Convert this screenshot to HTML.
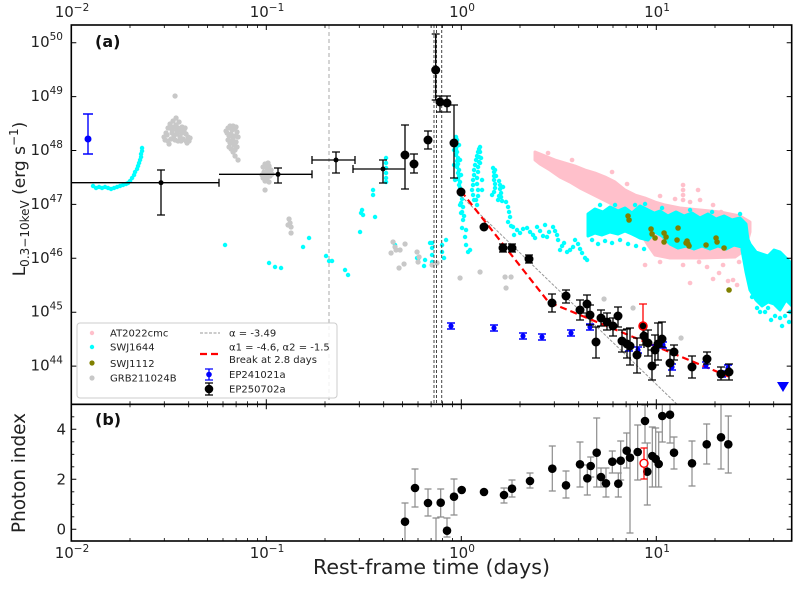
<!DOCTYPE html>
<html><head><meta charset="utf-8"><style>
html,body{margin:0;padding:0;background:#fff;}
svg{display:block;font-family:"DejaVu Sans","Liberation Sans",sans-serif;}
</style></head><body>
<svg width="800" height="592" viewBox="0 0 800 592" xmlns="http://www.w3.org/2000/svg">
<defs>
<clipPath id="ca"><rect x="71.3" y="25" width="720.4" height="379.3"/></clipPath>
<clipPath id="cb"><rect x="71.3" y="404.3" width="720.4" height="136.7"/></clipPath>
</defs>
<rect width="800" height="592" fill="#fff"/>

<g clip-path="url(#ca)">
<!-- AT2022cmc pink -->
<polygon fill="#ffc0cb" stroke="#ffc0cb" stroke-width="3" stroke-linejoin="round" points="535,152 545,156 555,160 565,163 575,166 585,170 595,173 605,177 615,182 625,190 635,195 645,198 655,202 665,205 680,208 700,210 720,212 740,216 750,222 750,232 745,250 735,257 700,258 670,258 655,255 648,245 640,232 630,218 620,210 610,203 600,198 590,193 580,188 570,182 560,177 550,170 540,164 535,160"/>
<path fill="none" stroke="#ffc0cb" stroke-width="4.6" stroke-linecap="round" d="M537 156h.1M683 185h.1M683 190h.1M683 195h.1M683 200h.1M698 190h.1M713 205h.1M721 212h.1M683 265h.1M690 283h.1M707 267h.1M713 279h.1M719 273h.1M723 265h.1M728 281h.1M733 280h.1M737 285h.1M749 223h.1M645 265h.1M700 200h.1M690 202h.1M675 199h.1M660 196h.1M597 186h.1M612 172h.1M627 184h.1M548 153h.1M572 160h.1M739 262h.1M699 262h.1M660 262h.1"/>

<!-- SWJ1644 cyan -->
<polygon fill="#00ffff" stroke="#00ffff" stroke-width="3" stroke-linejoin="round" points="588,214 595,209 603,212 610,207 618,211 625,208 632,213 640,206 648,210 654,213 654,233 648,240 640,238 632,234 625,231 618,234 610,232 602,235 595,233 588,236"/>
<polygon fill="#00ffff" stroke="#00ffff" stroke-width="3" stroke-linejoin="round" points="652,214 660,211 668,216 676,212 684,216 692,213 700,218 708,214 716,219 724,216 732,220 740,218 746,224 748,240 742,247 734,245 726,249 718,246 710,249 702,246 694,249 686,246 678,248 670,244 662,236 655,232"/>
<polygon fill="#00ffff" stroke="#00ffff" stroke-width="3" stroke-linejoin="round" points="744,230 750,244 756,252 762,254 768,256 774,250 780,252 786,258 792,264 792,306 786,300 780,310 774,304 768,302 762,306 756,300 750,290 746,272 742,250"/>
<path fill="none" stroke="#00ffff" stroke-width="4.4" stroke-linecap="round" d="M93 186h.1M96 188h.1M99 187h.1M102 188h.1M105 187h.1M108 188h.1M111 189h.1M114 188h.1M117 187h.1M120 186h.1M123 185h.1M126 184h.1M128 183h.1M130 181h.1M132 178h.1M134 175h.1M135 172h.1M137 169h.1M138 166h.1M139 163h.1M140 160h.1M141 157h.1M141 154h.1M142 151h.1M142 148h.1
M225 245h.1M269 263h.1M275 267h.1M281 268h.1M303 247h.1M309 238h.1M326 256h.1M329 261h.1M332 261h.1M345 270h.1M348 275h.1M360 232h.1M361 213h.1M362 210h.1M363 215h.1M373 190h.1M373 195h.1M375 217h.1M386 158h.1M386 163h.1M386 168h.1M386 173h.1M386 178h.1M386 182h.1M395 245h.1M418 259h.1M425 260h.1M424 266h.1M432 243h.1M432 248h.1M432 255h.1M432 262h.1M442 245h.1M442 252h.1M444 258h.1M446 240h.1M417 258h.1M430 243h.1
M456 137h.1M457 140h.1M456 143h.1M457 146h.1M456 149h.1M457 152h.1M456 155h.1M458 158h.1M457 161h.1M458 164h.1M457 167h.1M459 170h.1M458 173h.1M459 176h.1M458 179h.1M460 182h.1M459 185h.1M460 188h.1M460 191h.1M461 195h.1M462 199h.1M461 203h.1M463 207h.1M462 212h.1M464 216h.1M454 150h.1M454 165h.1M455 180h.1M459 145h.1M460 160h.1M461 175h.1M460 205h.1M461 213h.1M463 220h.1M465 237h.1M466 245h.1M468 252h.1M470 250h.1M462 228h.1M466 230h.1
M474 200h.1M473 195h.1M472 190h.1M473 185h.1M473 180h.1M474 175h.1M474 170h.1M475 165h.1M476 160h.1M477 156h.1M478 152h.1M479 149h.1M480 147h.1M480 152h.1M479 157h.1M479 162h.1M478 167h.1M478 172h.1M477 178h.1M477 184h.1M478 190h.1M478 196h.1M476 200h.1M477 205h.1M481 158h.1M480 163h.1M482 180h.1M482 190h.1
M493 168h.1M494 172h.1M494 176h.1M494 180h.1M495 184h.1M495 188h.1M494 192h.1M496 176h.1M495 170h.1M492 195h.1M499 181h.1M500 185h.1M500 189h.1M501 193h.1M501 197h.1M502 201h.1M503 187h.1M499 196h.1M498 200h.1
M506 202h.1M508 207h.1M509 212h.1M510 217h.1M508 222h.1M511 226h.1M513 227h.1M517 230h.1M514 235h.1M520 233h.1M523 229h.1M527 228h.1M530 232h.1M533 235h.1M537 227h.1M540 231h.1M543 236h.1M547 237h.1M549 232h.1M553 227h.1M555 231h.1M557 235h.1M560 250h.1M562 246h.1M564 243h.1M567 252h.1M570 250h.1M573 247h.1M575 240h.1M578 244h.1M582 253h.1M585 258h.1M587 260h.1M580 249h.1M558 240h.1M545 225h.1M535 238h.1
M592 240h.1M598 244h.1M605 241h.1M612 243h.1M620 240h.1M628 244h.1M636 246h.1M644 249h.1M590 230h.1M600 205h.1M615 205h.1M635 205h.1M645 204h.1M662 208h.1M690 210h.1M712 212h.1M740 214h.1M752 297h.1M757 308h.1M760 312h.1M768 308h.1M775 316h.1M780 318h.1M782 326h.1M765 312h.1M790 312h.1M785 316h.1M752 255h.1M748 262h.1M771 320h.1M789 322h.1"/>

<!-- SWJ1112 olive -->
<path fill="none" stroke="#808000" stroke-width="5.5" stroke-linecap="round" d="M628 216h.1M629 220h.1M651 229h.1M652 234h.1M655 238h.1M664 233h.1M666 237h.1M664 242h.1M678 228h.1M677 240h.1M687 241h.1M688 244h.1M689 246h.1M686 243h.1M706 245h.1M716 238h.1M717 242h.1M724 248h.1M729 290h.1"/>

<!-- GRB211024B gray -->
<path fill="none" stroke="#c8c8c8" stroke-width="5.2" stroke-linecap="round" d="M175 96h.1M176 118h.1M166 133h.1M168 128h.1M170 126h.1M172 130h.1M174 127h.1M176 125h.1M178 128h.1M180 130h.1M182 127h.1M184 131h.1M186 134h.1M188 137h.1M189 141h.1M187 143h.1M183 139h.1M180 137h.1M177 134h.1M174 136h.1M171 139h.1M168 141h.1M165 140h.1M164 137h.1M167 135h.1M172 133h.1M178 141h.1M182 133h.1M185 128h.1M170 124h.1M177 131h.1M181 141h.1M175 140h.1M169 144h.1M186 141h.1M190 138h.1M179 122h.1M173 121h.1
M228 128h.1M230 126h.1M232 130h.1M234 129h.1M236 127h.1M227 133h.1M229 136h.1M231 134h.1M233 138h.1M235 136h.1M237 132h.1M228 140h.1M230 143h.1M232 141h.1M234 145h.1M236 142h.1M229 147h.1M231 149h.1M233 152h.1M235 150h.1M237 147h.1M235 156h.1M238 160h.1M226 131h.1M238 137h.1M233 126h.1
M263 167h.1M265 164h.1M267 168h.1M269 166h.1M271 170h.1M264 172h.1M266 175h.1M268 172h.1M270 176h.1M272 174h.1M263 178h.1M265 181h.1M267 179h.1M269 182h.1M265 190h.1M262 175h.1M268 163h.1
M289 219h.1M290 223h.1M291 227h.1M291 233h.1M288 225h.1M393 242h.1M395 247h.1M391 253h.1M396 250h.1M400 250h.1M405 244h.1M399 268h.1M404 264h.1M417 252h.1M419 257h.1M418 262h.1M432 265h.1M437 263h.1M460 278h.1M480 272h.1M505 277h.1M511 277h.1M506 288h.1M604 299h.1M633 308h.1M681 338h.1"/>

<!-- vertical lines -->
<path d="M329 25V404.3" stroke="#aaaaaa" stroke-width="1" stroke-dasharray="4,3" fill="none"/>
<path d="M434 25V404.3M436.5 25V404.3M441.7 25V404.3" stroke="#444" stroke-width="1" stroke-dasharray="3,2" fill="none"/>

<!-- fit lines -->
<path d="M461 196L684 411" stroke="#999" stroke-width="1" stroke-dasharray="3,1.5" fill="none"/>
<path d="M461 191L548.5 302L730 377" stroke="#ff0000" stroke-width="2.2" stroke-dasharray="7,4" fill="none"/>

<!-- EP241021a blue -->
<path fill="none" stroke="#0000ff" stroke-width="1.4" d="M88 114V154M83 114h10M83 154h10
M451 323v6M447 323h8M447 329h8M494 325v6M490 325h8M490 331h8M523 333v6M519 333h8M519 339h8M542 334v6M538 334h8M538 340h8M571 330v6M567 330h8M567 336h8M590 324v6M586 324h8M586 330h8M629 345v6M625 345h8M625 351h8M638 347v6M634 347h8M634 353h8M655 345v6M651 345h8M651 351h8M663 342v6M659 342h8M659 348h8M672 364v6M668 364h8M668 370h8M706 362v6M702 362h8M702 368h8M722 371v6M718 371h8M718 377h8M728 365v6M724 365h8M724 371h8"/>
<g fill="#0000ff"><circle cx="88" cy="139" r="3.5"/>
<circle cx="451" cy="326" r="2.6"/><circle cx="494" cy="328" r="2.6"/><circle cx="523" cy="336" r="2.6"/><circle cx="542" cy="337" r="2.6"/><circle cx="571" cy="333" r="2.6"/><circle cx="590" cy="327" r="2.6"/><circle cx="629" cy="348" r="2.6"/><circle cx="638" cy="350" r="2.6"/><circle cx="655" cy="348" r="2.6"/><circle cx="663" cy="345" r="2.6"/><circle cx="672" cy="367" r="2.6"/><circle cx="706" cy="365" r="2.6"/><circle cx="722" cy="374" r="2.6"/><circle cx="728" cy="368" r="2.6"/>
<polygon points="777,382 789,382 783,392"/></g>

<!-- EP250702a black -->
<path fill="none" stroke="#000" stroke-width="1.3" d="M71.3 182.7H219M219 178.7v8M219 174.3H312M312 170.3v8M312 160H355M312 156v8M355 156v8M353 169H405M353 165v8M405 165v8
M161 170V215M157 170h8M157 215h8M278 168V183M274 168h8M274 183h8M336 152V173M332 152h8M332 173h8M383 160V183M379 160h8M379 183h8
M405 125V189M401 125h8M401 189h8M414 154V173M410 154h8M410 173h8M428 131V149M424 131h8M424 149h8M435.7 34V100M431.7 34h8M431.7 100h8M440 96V112M436 96h8M436 112h8M447 96V112M443 96h8M443 112h8M454 105V178M450 105h8M450 178h8
M503 244V252M499 244h8M499 252h8M512 244V252M508 244h8M508 252h8M529 255V263M525 255h8M525 263h8M552 294V312M548 294h8M548 312h8M566 290V303M562 290h8M562 303h8M580 300V320M576 300h8M576 320h8M587 295V313M583 295h8M583 313h8M590 305V325M586 305h8M586 325h8M596 327V358M592 327h8M592 358h8M601 310V326M597 310h8M597 326h8M607 313V330M603 313h8M603 330h8M613 318V336M609 318h8M609 336h8M618 307V327M614 307h8M614 327h8M622 330V352M618 330h8M618 352h8M627 329V358M623 329h8M623 358h8M630 328V365M626 328h8M626 365h8M637 338V373M633 338h8M633 373h8M643 326V345M639 345h8M644 323V348M648 330V356M644 330h8M644 356h8M652 350V380M648 350h8M648 380h8M655 335V365M651 335h8M651 365h8M658 323V360M654 323h8M654 360h8M662 322V347M658 322h8M658 347h8M670 350V376M666 350h8M666 376h8M674 345V360M670 345h8M670 360h8M692 356V378M688 356h8M688 378h8M707 352V364M703 352h8M703 364h8M721 367V380M717 367h8M717 380h8M729 364V380M725 364h8M725 380h8"/>
<path fill="none" stroke="#ff0000" stroke-width="1.3" d="M643 304V326M639 304h8"/>
<g fill="#000">
<circle cx="161" cy="182.7" r="2.5"/><circle cx="278" cy="174.3" r="2.5"/><circle cx="336" cy="160" r="2.5"/><circle cx="383" cy="169" r="2.5"/>
<circle cx="405" cy="155" r="4.5"/><circle cx="414" cy="164" r="4.5"/><circle cx="428" cy="140" r="4.5"/><circle cx="435.7" cy="70" r="4.5"/><circle cx="440" cy="102" r="4.5"/><circle cx="447" cy="103" r="4.5"/><circle cx="454" cy="143" r="4.5"/><circle cx="461" cy="192" r="4.5"/><circle cx="484" cy="227" r="4.5"/><circle cx="503" cy="248" r="4.5"/><circle cx="512" cy="248" r="4.5"/><circle cx="529" cy="259" r="4.5"/><circle cx="552" cy="303" r="4.5"/><circle cx="566" cy="296" r="4.5"/><circle cx="580" cy="310" r="4.5"/><circle cx="587" cy="304" r="4.5"/><circle cx="590" cy="315" r="4.5"/><circle cx="596" cy="342" r="4.5"/><circle cx="601" cy="318" r="4.5"/><circle cx="607" cy="322" r="4.5"/><circle cx="613" cy="326" r="4.5"/><circle cx="618" cy="316" r="4.5"/><circle cx="622" cy="341" r="4.5"/><circle cx="627" cy="344" r="4.5"/><circle cx="630" cy="346" r="4.5"/><circle cx="637" cy="355" r="4.5"/><circle cx="644" cy="336" r="4.5"/><circle cx="648" cy="343" r="4.5"/><circle cx="652" cy="366" r="4.5"/><circle cx="655" cy="350" r="4.5"/><circle cx="658" cy="344" r="4.5"/><circle cx="662" cy="339" r="4.5"/><circle cx="670" cy="363" r="4.5"/><circle cx="674" cy="352" r="4.5"/><circle cx="692" cy="367" r="4.5"/><circle cx="707" cy="359" r="4.5"/><circle cx="721" cy="374" r="4.5"/><circle cx="729" cy="372" r="4.5"/>
</g>
<circle cx="643" cy="326" r="4" fill="#000" stroke="#ff0000" stroke-width="1.5"/>
</g>

<!-- Panel b -->
<g clip-path="url(#cb)">
<path fill="none" stroke="#8c8c8c" stroke-width="1.2" d="M405 503V541M401.5 503h7M415 469V507M411.5 469h7M411.5 507h7M428 489V516M424.5 489h7M424.5 516h7M436 518V541M432.5 518h7M440.7 489V517M437.2 489h7M437.2 517h7M447 518V537M443.5 518h7M443.5 537h7M454 479V515M450.5 479h7M450.5 515h7M504 488V503M500.5 488h7M500.5 503h7M512 480V497M508.5 480h7M508.5 497h7M530 473V488M526.5 473h7M526.5 488h7M552.3 446V491M548.8 446h7M548.8 491h7M566 471V498M562.5 471h7M562.5 498h7M580 442V487M576.5 442h7M576.5 487h7M587.3 465V495M583.8 465h7M583.8 495h7M590.7 457V477M587.2 457h7M587.2 477h7M596.7 418V487M593.2 418h7M593.2 487h7M601 468V487M597.5 468h7M597.5 487h7M606 468V497M602.5 468h7M602.5 497h7M612.3 451V473M608.8 451h7M608.8 473h7M618.3 473V497M614.8 473h7M614.8 497h7M620.7 441V480M617.2 441h7M617.2 480h7M626.7 433V468M623.2 433h7M623.2 468h7M630 404V533M626.5 533h7M637.7 425V480M634.2 425h7M634.2 480h7M645 405V443M641.5 405h7M641.5 443h7M647.3 443V505M643.8 443h7M643.8 505h7M652.3 427V487M648.8 427h7M648.8 487h7M655.7 428V487M652.2 428h7M652.2 487h7M658.7 432V487M655.2 432h7M655.2 487h7M662.3 404V442M658.8 442h7M670 404V443M666.5 443h7M674 437V469M670.5 437h7M670.5 469h7M692 441V486M688.5 441h7M688.5 486h7M706.7 424V464M703.2 424h7M703.2 464h7M721 404V469M717.5 469h7M728.3 416V473M724.8 416h7M724.8 473h7"/>
<g fill="#000">
<circle cx="405" cy="521.7" r="4.3"/><circle cx="415" cy="488" r="4.3"/><circle cx="428" cy="503" r="4.3"/><circle cx="440.7" cy="502.7" r="4.3"/><circle cx="447" cy="530.7" r="4.3"/><circle cx="454" cy="496.7" r="4.3"/><circle cx="461.7" cy="490" r="4.3"/><circle cx="484" cy="492" r="4.3"/><circle cx="504" cy="495" r="4.3"/><circle cx="512" cy="488.7" r="4.3"/><circle cx="530" cy="481" r="4.3"/><circle cx="552.3" cy="468.7" r="4.3"/><circle cx="566" cy="485.3" r="4.3"/><circle cx="580" cy="464.3" r="4.3"/><circle cx="587.3" cy="478.3" r="4.3"/><circle cx="590.7" cy="466" r="4.3"/><circle cx="596.7" cy="452.7" r="4.3"/><circle cx="601" cy="477" r="4.3"/><circle cx="606" cy="483.3" r="4.3"/><circle cx="612.3" cy="461.7" r="4.3"/><circle cx="618.3" cy="483.7" r="4.3"/><circle cx="620.7" cy="460.7" r="4.3"/><circle cx="626.7" cy="450.7" r="4.3"/><circle cx="630" cy="457.7" r="4.3"/><circle cx="637.7" cy="452" r="4.3"/><circle cx="645" cy="421" r="4.3"/><circle cx="647.3" cy="471.7" r="4.3"/><circle cx="652.3" cy="456" r="4.3"/><circle cx="655.7" cy="459" r="4.3"/><circle cx="658.7" cy="464" r="4.3"/><circle cx="662.3" cy="416" r="4.3"/><circle cx="670" cy="414.7" r="4.3"/><circle cx="674" cy="452.7" r="4.3"/><circle cx="692" cy="463.3" r="4.3"/><circle cx="706.7" cy="444.3" r="4.3"/><circle cx="721" cy="437.3" r="4.3"/><circle cx="728.3" cy="444.3" r="4.3"/>
</g>
<path fill="none" stroke="#ff0000" stroke-width="1.2" d="M644 448V459M640.5 448h7M644 467.5V479M640.5 479h7"/>
<circle cx="644" cy="463.3" r="4" fill="none" stroke="#ff0000" stroke-width="1.4"/>
</g>

<!-- Legend -->
<rect x="77" y="323" width="260" height="75" rx="3" fill="#fff" fill-opacity="0.85" stroke="#cccccc" stroke-width="1"/>
<g font-size="10" fill="#222">
<circle cx="92" cy="333" r="2.2" fill="#ffc0cb"/><text x="110" y="336.5">AT2022cmc</text>
<circle cx="92" cy="347" r="2.2" fill="#00ffff"/><text x="110" y="350.5">SWJ1644</text>
<circle cx="92" cy="363" r="2.6" fill="#808000"/><text x="110" y="366.8">SWJ1112</text>
<circle cx="92" cy="378" r="2.6" fill="#c8c8c8"/><text x="110" y="381.5">GRB211024B</text>
<path d="M200 333H220" stroke="#999" stroke-width="1" stroke-dasharray="3,1.5"/><text x="229" y="336.5">α = -3.49</text>
<path d="M200 354H220" stroke="#ff0000" stroke-width="2.2" stroke-dasharray="7,4"/><text x="229" y="350.5">α1 = -4.6, α2 = -1.5</text><text x="229" y="363">Break at 2.8 days</text>
<path d="M209 369V380M205 369h8M205 380h8" stroke="#0000ff" stroke-width="1.3" fill="none"/><circle cx="209" cy="374.5" r="2.8" fill="#0000ff"/><text x="229" y="378">EP241021a</text>
<path d="M209 383V395M205 383h8M205 395h8" stroke="#000" stroke-width="1.3" fill="none"/><circle cx="209" cy="389" r="4.3" fill="#000"/><text x="229" y="392.5">EP250702a</text>
</g>

<!-- ticks -->
<path fill="none" stroke="#000" stroke-width="1" d="
M266.3 25v5M461.3 25v5M656.3 25v5M266.3 404.3v-5M461.3 404.3v-5M656.3 404.3v-5M266.3 404.3v5M461.3 404.3v5M656.3 404.3v5M266.3 541v-5M461.3 541v-5M656.3 541v-5
M71.3 42.7h5M71.3 96.6h5M71.3 150.5h5M71.3 204.4h5M71.3 258.3h5M71.3 312.2h5M71.3 366.1h5M791.7 42.7h-5M791.7 96.6h-5M791.7 150.5h-5M791.7 204.4h-5M791.7 258.3h-5M791.7 312.2h-5M791.7 366.1h-5
M71.3 529.3h5M71.3 479.3h5M71.3 429.3h5M791.7 529.3h-5M791.7 479.3h-5M791.7 429.3h-5"/>
<path fill="none" stroke="#000" stroke-width="0.8" d="
M130 25v3M164.3 25v3M188.7 25v3M207.6 25v3M223 25v3M236.1 25v3M247.4 25v3M257.4 25v3M325 25v3M359.3 25v3M383.7 25v3M402.6 25v3M418 25v3M431.1 25v3M442.4 25v3M452.4 25v3M520 25v3M554.3 25v3M578.7 25v3M597.6 25v3M613 25v3M626.1 25v3M637.4 25v3M647.4 25v3M715 25v3M749.3 25v3M773.7 25v3
M130 404.3v-3M164.3 404.3v-3M188.7 404.3v-3M207.6 404.3v-3M223 404.3v-3M236.1 404.3v-3M247.4 404.3v-3M257.4 404.3v-3M325 404.3v-3M359.3 404.3v-3M383.7 404.3v-3M402.6 404.3v-3M418 404.3v-3M431.1 404.3v-3M442.4 404.3v-3M452.4 404.3v-3M520 404.3v-3M554.3 404.3v-3M578.7 404.3v-3M597.6 404.3v-3M613 404.3v-3M626.1 404.3v-3M637.4 404.3v-3M647.4 404.3v-3M715 404.3v-3M749.3 404.3v-3M773.7 404.3v-3
M130 404.3v3M164.3 404.3v3M188.7 404.3v3M207.6 404.3v3M223 404.3v3M236.1 404.3v3M247.4 404.3v3M257.4 404.3v3M325 404.3v3M359.3 404.3v3M383.7 404.3v3M402.6 404.3v3M418 404.3v3M431.1 404.3v3M442.4 404.3v3M452.4 404.3v3M520 404.3v3M554.3 404.3v3M578.7 404.3v3M597.6 404.3v3M613 404.3v3M626.1 404.3v3M637.4 404.3v3M647.4 404.3v3M715 404.3v3M749.3 404.3v3M773.7 404.3v3
M130 541v-3M164.3 541v-3M188.7 541v-3M207.6 541v-3M223 541v-3M236.1 541v-3M247.4 541v-3M257.4 541v-3M325 541v-3M359.3 541v-3M383.7 541v-3M402.6 541v-3M418 541v-3M431.1 541v-3M442.4 541v-3M452.4 541v-3M520 541v-3M554.3 541v-3M578.7 541v-3M597.6 541v-3M613 541v-3M626.1 541v-3M637.4 541v-3M647.4 541v-3M715 541v-3M749.3 541v-3M773.7 541v-3
M71.3 516.8h3M71.3 504.3h3M71.3 491.8h3M71.3 466.8h3M71.3 454.3h3M71.3 441.8h3M71.3 416.8h3M791.7 516.8h-3M791.7 504.3h-3M791.7 491.8h-3M791.7 466.8h-3M791.7 454.3h-3M791.7 441.8h-3M791.7 416.8h-3"/>

<!-- spines -->
<rect x="71.3" y="25" width="720.4" height="379.3" fill="none" stroke="#000" stroke-width="1.6"/>
<rect x="71.3" y="404.3" width="720.4" height="136.7" fill="none" stroke="#000" stroke-width="1.6"/>

<!-- tick labels -->
<g font-size="15" fill="#222" text-anchor="middle">
<text x="72" y="17">10<tspan font-size="10.5" dy="-6">−2</tspan></text>
<text x="267" y="17">10<tspan font-size="10.5" dy="-6">−1</tspan></text>
<text x="462" y="17">10<tspan font-size="10.5" dy="-6">0</tspan></text>
<text x="657" y="17">10<tspan font-size="10.5" dy="-6">1</tspan></text>
<text x="72" y="558">10<tspan font-size="10.5" dy="-6">−2</tspan></text>
<text x="267" y="558">10<tspan font-size="10.5" dy="-6">−1</tspan></text>
<text x="462" y="558">10<tspan font-size="10.5" dy="-6">0</tspan></text>
<text x="657" y="558">10<tspan font-size="10.5" dy="-6">1</tspan></text>
</g>
<g font-size="15" fill="#222" text-anchor="end">
<text x="63" y="47.2">10<tspan font-size="10.5" dy="-7">50</tspan></text>
<text x="63" y="101.1">10<tspan font-size="10.5" dy="-7">49</tspan></text>
<text x="63" y="155">10<tspan font-size="10.5" dy="-7">48</tspan></text>
<text x="63" y="208.9">10<tspan font-size="10.5" dy="-7">47</tspan></text>
<text x="63" y="262.8">10<tspan font-size="10.5" dy="-7">46</tspan></text>
<text x="63" y="316.7">10<tspan font-size="10.5" dy="-7">45</tspan></text>
<text x="63" y="370.6">10<tspan font-size="10.5" dy="-7">44</tspan></text>
<text x="66" y="534.5">0</text>
<text x="66" y="484.5">2</text>
<text x="66" y="434.5">4</text>
</g>

<!-- panel labels -->
<text x="95" y="47" font-size="16" font-weight="bold" fill="#111">(a)</text>
<text x="95" y="425" font-size="16" font-weight="bold" fill="#111">(b)</text>

<!-- axis labels -->
<text x="431.5" y="574" font-size="20.5" fill="#222" text-anchor="middle" textLength="237" lengthAdjust="spacingAndGlyphs">Rest-frame time (days)</text>
<text transform="translate(25,473) rotate(-90)" font-size="19" fill="#222" text-anchor="middle" textLength="120" lengthAdjust="spacingAndGlyphs">Photon index</text>
<text transform="translate(25,199) rotate(-90)" font-size="17" fill="#222" text-anchor="middle">L<tspan font-size="12" dy="4">0.3−10keV</tspan><tspan dy="-4"> (erg s</tspan><tspan font-size="12" dy="-7">−1</tspan><tspan dy="7">)</tspan></text>
</svg>
</body></html>
